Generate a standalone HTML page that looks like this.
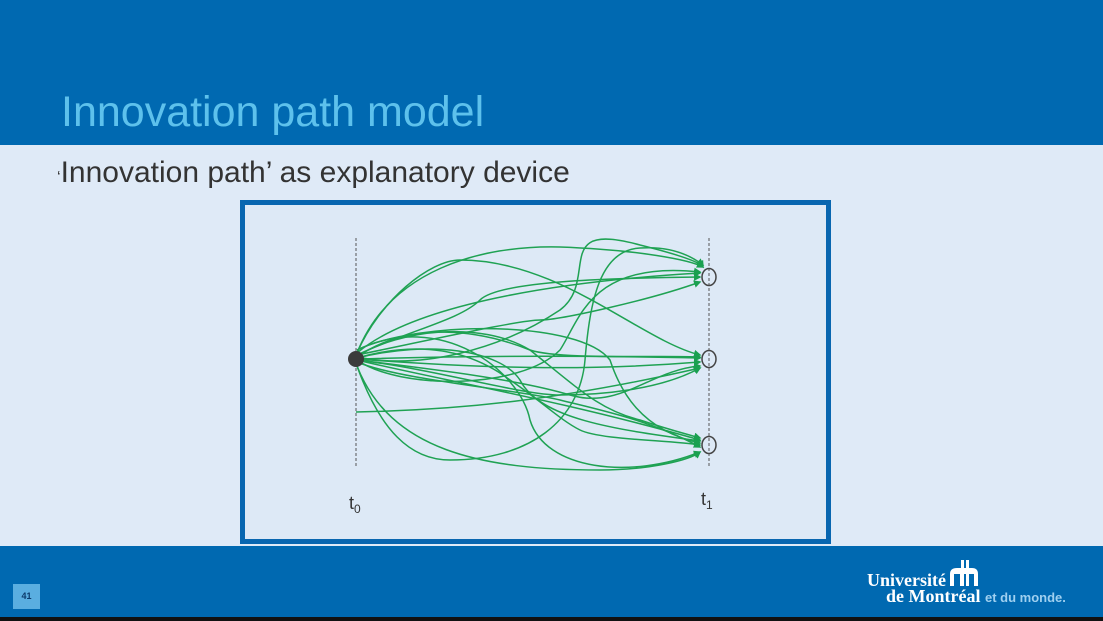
<!DOCTYPE html>
<html><head><style>
body{margin:0;width:1103px;height:621px;overflow:hidden;background:#dfeaf7;font-family:"Liberation Sans",sans-serif;position:relative}
.top{position:absolute;left:0;top:0;width:1103px;height:145px;background:#0069b1}
.title{position:absolute;left:61px;top:88px;font-size:43px;color:#5dc1ec}
.sub{position:absolute;left:57px;top:156px;font-size:30px;color:#333}
.bot{position:absolute;left:0;top:546px;width:1103px;height:71px;background:#0069b1}
.blk{position:absolute;left:0;top:617px;width:1103px;height:4px;background:#111}
.box{position:absolute;left:240px;top:200px;width:581px;height:334px;border:5px solid #0866b0;background:#dde9f6}
.num{position:absolute;left:13px;top:584px;width:27px;height:25px;background:#5aaee0;color:#0b3a6b;font-size:9px;font-weight:bold;text-align:center;line-height:25px}
.logo{position:absolute;color:#fff;font-family:"Liberation Serif",serif;font-size:18px;font-weight:bold}
</style></head><body>
<div class="top"></div><div class="title">Innovation path model</div>
<div class="sub"><span style="font-size:16px">‘</span>Innovation path’ as explanatory device</div>
<div class="box"></div>
<svg style="position:absolute;left:0;top:0" width="1103" height="621">
<defs><marker id="a" markerWidth="5" markerHeight="5" refX="4" refY="2.5" orient="auto"><path d="M0,0L5,2.5L0,5z" fill="#1aa050"/></marker></defs>
<g stroke="#555" stroke-dasharray="3,2" stroke-width="1"><line x1="356" y1="238" x2="356" y2="467"/><line x1="709" y1="238" x2="709" y2="467"/></g>
<g fill="none" stroke="#1fa253" stroke-width="1.5" marker-end="url(#a)">
<path d="M357,353C390,270 480,245 560,247C640,250 690,260 703,267"/>
<path d="M357,353C380,300 430,260 460,260C560,260 640,340 700,355"/>
<path d="M357,353C420,300 580,280 700,273"/>
<path d="M357,355C410,330 460,320 480,300C500,280 620,278 700,277"/>
<path d="M357,355C430,340 520,320 540,320C560,320 650,300 700,282"/>
<path d="M357,357C410,320 480,330 530,350C560,360 660,355 700,357"/>
<path d="M357,357C420,370 500,350 560,310C600,280 550,220 640,245C680,255 700,262 703,267"/>
<path d="M357,360C400,390 520,390 560,350C580,320 590,260 700,272"/>
<path d="M357,359C500,355 600,356 700,358"/>
<path d="M357,359C500,370 600,370 700,362"/>
<path d="M357,360C440,370 520,380 570,395C620,410 650,370 700,366"/>
<path d="M357,360C440,370 520,395 560,395C600,395 660,390 700,368"/>
<path d="M357,360C440,380 560,400 700,440"/>
<path d="M357,358C430,340 500,350 520,380C540,420 620,430 700,441"/>
<path d="M357,358C420,340 470,350 510,380C540,400 560,420 580,430C600,440 670,440 700,445"/>
<path d="M357,356C400,330 480,320 530,350C580,390 600,410 640,420C670,430 690,435 700,438"/>
<path d="M357,362C400,380 520,390 560,400C600,410 650,420 700,447"/>
<path d="M356,412C460,410 560,400 700,368"/>
<path d="M357,366C380,430 410,460 450,460C530,460 580,420 585,360C590,300 600,250 640,248C670,246 690,255 703,265"/>
<path d="M357,366C390,450 480,470 600,470C650,470 690,460 700,452"/>
<path d="M357,350C440,310 520,370 530,420C545,470 630,480 700,452"/>
<path d="M357,350C420,320 580,320 610,360C620,390 640,430 700,443"/>
</g>
<circle cx="356" cy="359" r="8" fill="#3b3b3b"/>
<g fill="none" stroke="#444" stroke-width="1.5"><ellipse cx="709" cy="277" rx="7" ry="8.5"/><ellipse cx="709" cy="359" rx="7" ry="8.5"/><ellipse cx="709" cy="445" rx="7" ry="8.5"/></g>
<text x="349" y="509" font-size="18" fill="#333" font-family="Liberation Sans">t<tspan font-size="12" dy="4">0</tspan></text>
<text x="701" y="505" font-size="18" fill="#333" font-family="Liberation Sans">t<tspan font-size="12" dy="4">1</tspan></text>
</svg>
<div class="bot"></div><div class="blk"></div>
<div class="num">41</div>
<div class="logo" style="left:867px;top:570px">Université</div>
<div class="logo" style="left:886px;top:586px">de Montréal <span style="font-family:'Liberation Sans',sans-serif;font-size:13px;color:#9fd0f0;font-weight:bold">et du monde.</span></div>
<svg style="position:absolute;left:950px;top:560px" width="30" height="26"><g fill="#fff"><rect x="11" y="0" width="3" height="26"/><rect x="16" y="0" width="3" height="26"/><path d="M0,26V14Q0,8 7,8H22Q28,8 28,14V26H24V14H19V26H16V14H13V26H10V14H4V26Z"/></g></svg>
</body></html>
